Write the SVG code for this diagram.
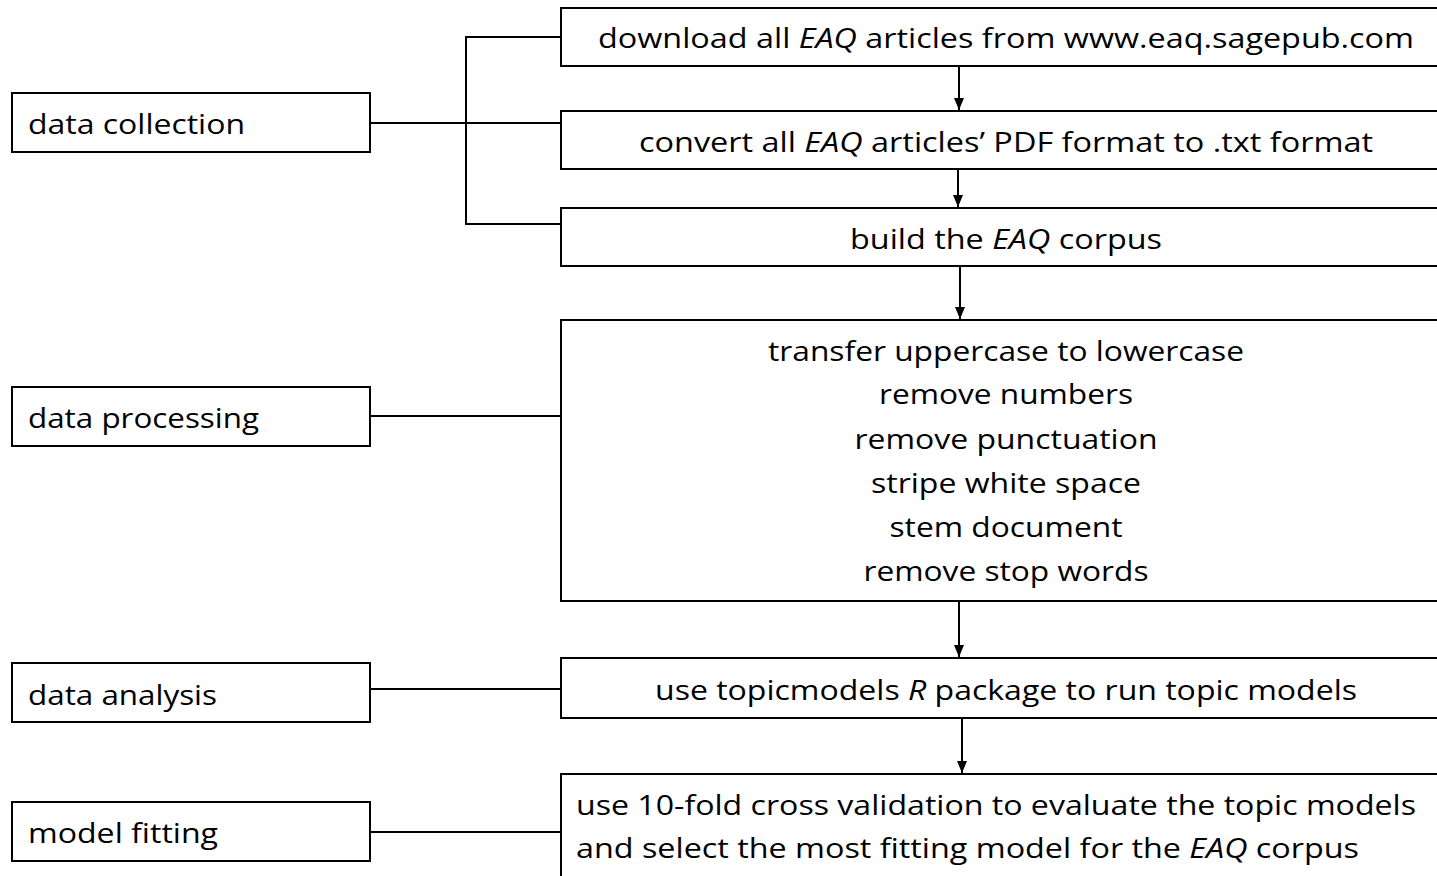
<svg xmlns="http://www.w3.org/2000/svg" width="1437" height="876" viewBox="0 0 1437 876">
<style>
.box{fill:#fff;stroke:#000;stroke-width:2}
.t{font-family:"Open Sans","Liberation Sans",sans-serif;font-size:28px;fill:#000}
.m{text-anchor:middle}
.ln{fill:none;stroke:#000;stroke-width:2}
</style>
<defs>
<marker id="ah" markerWidth="12" markerHeight="10" refX="12" refY="5" orient="auto" markerUnits="userSpaceOnUse" viewBox="0 0 12 10">
<path d="M0,0 L12,5 L0,10 Z" fill="#000"/>
</marker>
</defs>
<rect width="1437" height="876" fill="#fff"/>
<g id="connectors">
<path class="ln" d="M561,37 H466 V224 H561"/>
<path class="ln" d="M370,123 H561"/>
<path class="ln" d="M370,416 H561"/>
<path class="ln" d="M370,689 H561"/>
<path class="ln" d="M370,832 H561"/>
<line class="ln" x1="959" y1="66" x2="959" y2="110" marker-end="url(#ah)"/>
<line class="ln" x1="958" y1="169" x2="958" y2="207" marker-end="url(#ah)"/>
<line class="ln" x1="960" y1="266" x2="960" y2="319" marker-end="url(#ah)"/>
<line class="ln" x1="959" y1="601" x2="959" y2="657" marker-end="url(#ah)"/>
<line class="ln" x1="962" y1="718" x2="962" y2="773" marker-end="url(#ah)"/>
</g>
<g id="n-collection"><rect class="box" x="12" y="93" width="358" height="59"/><text class="t" x="28" y="134" textLength="217" lengthAdjust="spacingAndGlyphs">data collection</text></g>
<g id="n-processing"><rect class="box" x="12" y="387" width="358" height="59"/><text class="t" x="28" y="428" textLength="231" lengthAdjust="spacingAndGlyphs">data processing</text></g>
<g id="n-analysis"><rect class="box" x="12" y="663" width="358" height="59"/><text class="t" x="28" y="705" textLength="189" lengthAdjust="spacingAndGlyphs">data analysis</text></g>
<g id="n-fitting"><rect class="box" x="12" y="802" width="358" height="59"/><text class="t" x="28" y="843" textLength="190" lengthAdjust="spacingAndGlyphs">model fitting</text></g>
<g id="n-download"><rect class="box" x="561" y="8" width="900" height="58"/><text class="t m" x="1006" y="48" textLength="816" lengthAdjust="spacingAndGlyphs">download all <tspan font-style="italic">EAQ</tspan> articles from www.eaq.sagepub.com</text></g>
<g id="n-convert"><rect class="box" x="561" y="111" width="900" height="58"/><text class="t m" x="1006" y="152" textLength="734" lengthAdjust="spacingAndGlyphs">convert all <tspan font-style="italic">EAQ</tspan> articles’ PDF format to .txt format</text></g>
<g id="n-build"><rect class="box" x="561" y="208" width="900" height="58"/><text class="t m" x="1006" y="249" textLength="312" lengthAdjust="spacingAndGlyphs">build the <tspan font-style="italic">EAQ</tspan> corpus</text></g>
<g id="n-clean"><rect class="box" x="561" y="320" width="900" height="281"/>
<text class="t m" x="1006" y="361" textLength="476" lengthAdjust="spacingAndGlyphs">transfer uppercase to lowercase</text>
<text class="t m" x="1006" y="404" textLength="254" lengthAdjust="spacingAndGlyphs">remove numbers</text>
<text class="t m" x="1006" y="449" textLength="303" lengthAdjust="spacingAndGlyphs">remove punctuation</text>
<text class="t m" x="1006" y="493" textLength="270" lengthAdjust="spacingAndGlyphs">stripe white space</text>
<text class="t m" x="1006" y="537" textLength="233" lengthAdjust="spacingAndGlyphs">stem document</text>
<text class="t m" x="1006" y="581" textLength="285" lengthAdjust="spacingAndGlyphs">remove stop words</text>
</g>
<g id="n-topic"><rect class="box" x="561" y="658" width="900" height="60"/><text class="t m" x="1006" y="700" textLength="702" lengthAdjust="spacingAndGlyphs">use topicmodels <tspan font-style="italic">R</tspan> package to run topic models</text></g>
<g id="n-cv"><rect class="box" x="561" y="774" width="900" height="130"/>
<text class="t" x="576" y="815" textLength="840" lengthAdjust="spacingAndGlyphs">use 10-fold cross validation to evaluate the topic models</text>
<text class="t" x="576" y="858" textLength="783" lengthAdjust="spacingAndGlyphs">and select the most fitting model for the <tspan font-style="italic">EAQ</tspan> corpus</text>
</g>
</svg>
